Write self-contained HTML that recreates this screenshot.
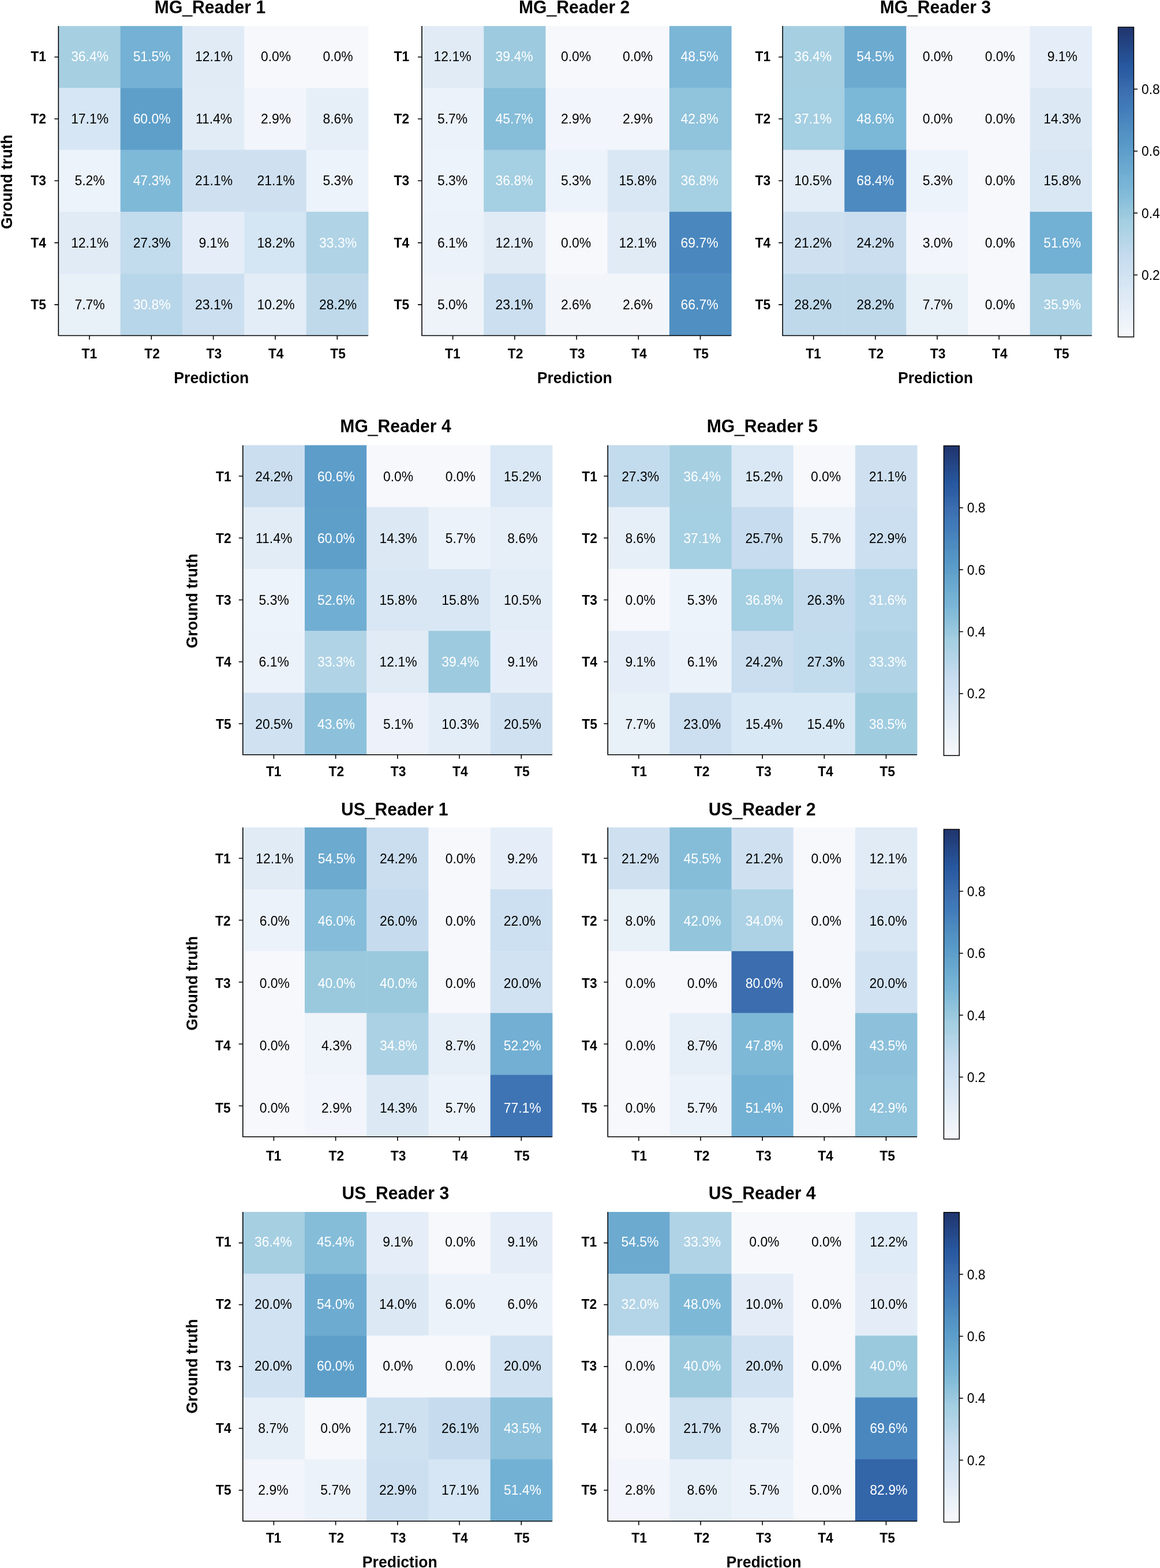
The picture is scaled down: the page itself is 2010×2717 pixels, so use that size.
<!DOCTYPE html>
<html><head><meta charset="utf-8"><title>Confusion matrices</title><style>
html,body{margin:0;padding:0;background:#fff;}
body{width:2010px;height:2717px;overflow:hidden;}
svg{display:block;}
text{font-family:"Liberation Sans",Arial,Helvetica,sans-serif;}
.c{font-size:22.9px;text-anchor:middle;fill:#000;}
.w{fill:#fff;}
.yt{font-size:22.8px;font-weight:bold;text-anchor:end;}
.xt{font-size:22.8px;font-weight:bold;text-anchor:middle;}
.ti{font-size:30.1px;font-weight:bold;text-anchor:middle;}
.lb{font-size:26.6px;font-weight:bold;text-anchor:middle;}
.cb{font-size:22.9px;}
.sp{fill:none;stroke:#000;stroke-width:1.6;stroke-linecap:butt;stroke-linejoin:miter;}
.tk{fill:none;stroke:#000;stroke-width:1.6;}
</style></head><body>
<svg width="2010" height="2717" viewBox="0 0 2010 2717">
<defs>
<linearGradient id="cbg" x1="0" y1="0" x2="0" y2="1"><stop offset="0" stop-color="#21366f"/><stop offset="0.02" stop-color="#213974"/><stop offset="0.03" stop-color="#223d7a"/><stop offset="0.05" stop-color="#234280"/><stop offset="0.06" stop-color="#244686"/><stop offset="0.08" stop-color="#254b8c"/><stop offset="0.09" stop-color="#264f92"/><stop offset="0.11" stop-color="#265399"/><stop offset="0.12" stop-color="#27589f"/><stop offset="0.14" stop-color="#2b5ca2"/><stop offset="0.16" stop-color="#2f60a6"/><stop offset="0.17" stop-color="#3365a9"/><stop offset="0.19" stop-color="#3769ac"/><stop offset="0.2" stop-color="#3b6daf"/><stop offset="0.22" stop-color="#3d71b2"/><stop offset="0.23" stop-color="#3f75b5"/><stop offset="0.25" stop-color="#4079b8"/><stop offset="0.27" stop-color="#437dba"/><stop offset="0.28" stop-color="#4681bc"/><stop offset="0.3" stop-color="#4985be"/><stop offset="0.31" stop-color="#4c89bf"/><stop offset="0.33" stop-color="#4f8dc1"/><stop offset="0.34" stop-color="#5291c3"/><stop offset="0.36" stop-color="#5495c5"/><stop offset="0.38" stop-color="#5799c7"/><stop offset="0.39" stop-color="#5b9cc9"/><stop offset="0.41" stop-color="#5f9fcb"/><stop offset="0.42" stop-color="#63a3cc"/><stop offset="0.44" stop-color="#67a6ce"/><stop offset="0.45" stop-color="#6ba9d0"/><stop offset="0.47" stop-color="#6eadd2"/><stop offset="0.48" stop-color="#72b0d4"/><stop offset="0.5" stop-color="#76b3d5"/><stop offset="0.52" stop-color="#7bb6d7"/><stop offset="0.53" stop-color="#80bad8"/><stop offset="0.55" stop-color="#85bdd9"/><stop offset="0.56" stop-color="#8bc0db"/><stop offset="0.58" stop-color="#91c4dc"/><stop offset="0.59" stop-color="#97c7de"/><stop offset="0.61" stop-color="#9dcadf"/><stop offset="0.62" stop-color="#a3cee1"/><stop offset="0.64" stop-color="#a7d0e3"/><stop offset="0.66" stop-color="#acd2e4"/><stop offset="0.67" stop-color="#b1d4e6"/><stop offset="0.69" stop-color="#b5d5e8"/><stop offset="0.7" stop-color="#bad7ea"/><stop offset="0.72" stop-color="#bfd9eb"/><stop offset="0.73" stop-color="#c3dbed"/><stop offset="0.75" stop-color="#c8ddef"/><stop offset="0.77" stop-color="#cbdff0"/><stop offset="0.78" stop-color="#cde0f1"/><stop offset="0.8" stop-color="#d0e2f2"/><stop offset="0.81" stop-color="#d3e4f3"/><stop offset="0.83" stop-color="#d6e5f4"/><stop offset="0.84" stop-color="#d9e7f4"/><stop offset="0.86" stop-color="#dce9f5"/><stop offset="0.88" stop-color="#dfeaf6"/><stop offset="0.89" stop-color="#e2ecf7"/><stop offset="0.91" stop-color="#e5eef7"/><stop offset="0.92" stop-color="#e8f0f8"/><stop offset="0.94" stop-color="#ebf1f9"/><stop offset="0.95" stop-color="#eef3fa"/><stop offset="0.97" stop-color="#f1f5fa"/><stop offset="0.98" stop-color="#f4f6fb"/><stop offset="1" stop-color="#f7f8fc"/></linearGradient>
</defs>
<rect x="0" y="0" width="2010" height="2717" fill="#ffffff"/>
<g>
<rect x="101.3" y="45.1" width="107.84" height="107.78" fill="#a6cfe2"/>
<rect x="208.64" y="45.1" width="107.84" height="107.78" fill="#74b1d4"/>
<rect x="315.98" y="45.1" width="107.84" height="107.78" fill="#e0ebf6"/>
<rect x="423.32" y="45.1" width="107.84" height="107.78" fill="#f7f8fc"/>
<rect x="530.66" y="45.1" width="107.84" height="107.78" fill="#f7f8fc"/>
<rect x="101.3" y="152.38" width="107.84" height="107.78" fill="#d6e6f4"/>
<rect x="208.64" y="152.38" width="107.84" height="107.78" fill="#5e9fca"/>
<rect x="315.98" y="152.38" width="107.84" height="107.78" fill="#e1ecf6"/>
<rect x="423.32" y="152.38" width="107.84" height="107.78" fill="#f2f5fb"/>
<rect x="530.66" y="152.38" width="107.84" height="107.78" fill="#e6eff8"/>
<rect x="101.3" y="259.66" width="107.84" height="107.78" fill="#edf3fa"/>
<rect x="208.64" y="259.66" width="107.84" height="107.78" fill="#7fb9d8"/>
<rect x="315.98" y="259.66" width="107.84" height="107.78" fill="#cfe1f1"/>
<rect x="423.32" y="259.66" width="107.84" height="107.78" fill="#cfe1f1"/>
<rect x="530.66" y="259.66" width="107.84" height="107.78" fill="#edf3fa"/>
<rect x="101.3" y="366.94" width="107.84" height="107.78" fill="#e0ebf6"/>
<rect x="208.64" y="366.94" width="107.84" height="107.78" fill="#c2dbed"/>
<rect x="315.98" y="366.94" width="107.84" height="107.78" fill="#e5eef8"/>
<rect x="423.32" y="366.94" width="107.84" height="107.78" fill="#d4e5f3"/>
<rect x="530.66" y="366.94" width="107.84" height="107.78" fill="#b0d3e6"/>
<rect x="101.3" y="474.22" width="107.84" height="107.78" fill="#e8f0f8"/>
<rect x="208.64" y="474.22" width="107.84" height="107.78" fill="#b8d6e9"/>
<rect x="315.98" y="474.22" width="107.84" height="107.78" fill="#cbdff0"/>
<rect x="423.32" y="474.22" width="107.84" height="107.78" fill="#e3edf7"/>
<rect x="530.66" y="474.22" width="107.84" height="107.78" fill="#bfd9eb"/>
<text x="155.6" y="106.5" transform="matrix(1 0 0 1.0450 0 -4.792)" class="c w">36.4%</text>
<text x="263.09" y="106.5" transform="matrix(1 0 0 1.0450 0 -4.792)" class="c w">51.5%</text>
<text x="370.58" y="106.5" transform="matrix(1 0 0 1.0450 0 -4.792)" class="c">12.1%</text>
<text x="478.07" y="106.5" transform="matrix(1 0 0 1.0450 0 -4.792)" class="c">0.0%</text>
<text x="585.56" y="106.5" transform="matrix(1 0 0 1.0450 0 -4.792)" class="c">0.0%</text>
<text x="155.6" y="214" transform="matrix(1 0 0 1.0450 0 -9.630)" class="c">17.1%</text>
<text x="263.09" y="214" transform="matrix(1 0 0 1.0450 0 -9.630)" class="c w">60.0%</text>
<text x="370.58" y="214" transform="matrix(1 0 0 1.0450 0 -9.630)" class="c">11.4%</text>
<text x="478.07" y="214" transform="matrix(1 0 0 1.0450 0 -9.630)" class="c">2.9%</text>
<text x="585.56" y="214" transform="matrix(1 0 0 1.0450 0 -9.630)" class="c">8.6%</text>
<text x="155.6" y="321.5" transform="matrix(1 0 0 1.0450 0 -14.467)" class="c">5.2%</text>
<text x="263.09" y="321.5" transform="matrix(1 0 0 1.0450 0 -14.467)" class="c w">47.3%</text>
<text x="370.58" y="321.5" transform="matrix(1 0 0 1.0450 0 -14.467)" class="c">21.1%</text>
<text x="478.07" y="321.5" transform="matrix(1 0 0 1.0450 0 -14.467)" class="c">21.1%</text>
<text x="585.56" y="321.5" transform="matrix(1 0 0 1.0450 0 -14.467)" class="c">5.3%</text>
<text x="155.6" y="429" transform="matrix(1 0 0 1.0450 0 -19.305)" class="c">12.1%</text>
<text x="263.09" y="429" transform="matrix(1 0 0 1.0450 0 -19.305)" class="c">27.3%</text>
<text x="370.58" y="429" transform="matrix(1 0 0 1.0450 0 -19.305)" class="c">9.1%</text>
<text x="478.07" y="429" transform="matrix(1 0 0 1.0450 0 -19.305)" class="c">18.2%</text>
<text x="585.56" y="429" transform="matrix(1 0 0 1.0450 0 -19.305)" class="c w">33.3%</text>
<text x="155.6" y="536.5" transform="matrix(1 0 0 1.0450 0 -24.142)" class="c">7.7%</text>
<text x="263.09" y="536.5" transform="matrix(1 0 0 1.0450 0 -24.142)" class="c w">30.8%</text>
<text x="370.58" y="536.5" transform="matrix(1 0 0 1.0450 0 -24.142)" class="c">23.1%</text>
<text x="478.07" y="536.5" transform="matrix(1 0 0 1.0450 0 -24.142)" class="c">10.2%</text>
<text x="585.56" y="536.5" transform="matrix(1 0 0 1.0450 0 -24.142)" class="c">28.2%</text>
<path d="M101.3 45.1 V581.5 H638" class="sp"/>
<path d="M94.3 98.74 H101.3 M154.97 581.5 V588.5" class="tk"/>
<text x="79.9" y="106.5" transform="matrix(1 0 0 1.0450 0 -4.792)" class="yt">T1</text>
<text x="154.77" y="621.2" transform="matrix(1 0 0 1.0450 0 -27.954)" class="xt">T1</text>
<path d="M94.3 206.02 H101.3 M262.31 581.5 V588.5" class="tk"/>
<text x="79.9" y="214" transform="matrix(1 0 0 1.0450 0 -9.630)" class="yt">T2</text>
<text x="263.51" y="621.2" transform="matrix(1 0 0 1.0450 0 -27.954)" class="xt">T2</text>
<path d="M94.3 313.3 H101.3 M369.65 581.5 V588.5" class="tk"/>
<text x="79.9" y="321.5" transform="matrix(1 0 0 1.0450 0 -14.467)" class="yt">T3</text>
<text x="370.85" y="621.2" transform="matrix(1 0 0 1.0450 0 -27.954)" class="xt">T3</text>
<path d="M94.3 420.58 H101.3 M476.99 581.5 V588.5" class="tk"/>
<text x="79.9" y="429" transform="matrix(1 0 0 1.0450 0 -19.305)" class="yt">T4</text>
<text x="478.19" y="621.2" transform="matrix(1 0 0 1.0450 0 -27.954)" class="xt">T4</text>
<path d="M94.3 527.86 H101.3 M584.33 581.5 V588.5" class="tk"/>
<text x="79.9" y="536.5" transform="matrix(1 0 0 1.0450 0 -24.142)" class="yt">T5</text>
<text x="585.53" y="621.2" transform="matrix(1 0 0 1.0450 0 -27.954)" class="xt">T5</text>
<text x="364" y="22.6" transform="matrix(1 0 0 1.0450 0 -1.017)" class="ti">MG<tspan dy="1.2" stroke="#000" stroke-width="0.7">_</tspan><tspan dy="-1.2">Reader 1</tspan></text>
<text x="366.36" y="663.6" transform="matrix(1 0 0 1.0450 0 -29.862)" class="lb">Prediction</text>
<text transform="translate(20.6 315.17) rotate(-90) scale(1 1.0450)" class="lb">Ground truth</text>
</g>
<g>
<rect x="731" y="45.1" width="107.72" height="107.78" fill="#e0ebf6"/>
<rect x="838.22" y="45.1" width="107.72" height="107.78" fill="#9dcadf"/>
<rect x="945.44" y="45.1" width="107.72" height="107.78" fill="#f7f8fc"/>
<rect x="1052.66" y="45.1" width="107.72" height="107.78" fill="#f7f8fc"/>
<rect x="1159.88" y="45.1" width="107.72" height="107.78" fill="#7bb6d7"/>
<rect x="731" y="152.38" width="107.72" height="107.78" fill="#ecf2f9"/>
<rect x="838.22" y="152.38" width="107.72" height="107.78" fill="#86bdd9"/>
<rect x="945.44" y="152.38" width="107.72" height="107.78" fill="#f2f5fb"/>
<rect x="1052.66" y="152.38" width="107.72" height="107.78" fill="#f2f5fb"/>
<rect x="1159.88" y="152.38" width="107.72" height="107.78" fill="#90c3dc"/>
<rect x="731" y="259.66" width="107.72" height="107.78" fill="#edf3fa"/>
<rect x="838.22" y="259.66" width="107.72" height="107.78" fill="#a5cfe2"/>
<rect x="945.44" y="259.66" width="107.72" height="107.78" fill="#edf3fa"/>
<rect x="1052.66" y="259.66" width="107.72" height="107.78" fill="#d9e7f4"/>
<rect x="1159.88" y="259.66" width="107.72" height="107.78" fill="#a5cfe2"/>
<rect x="731" y="366.94" width="107.72" height="107.78" fill="#ecf2f9"/>
<rect x="838.22" y="366.94" width="107.72" height="107.78" fill="#e0ebf6"/>
<rect x="945.44" y="366.94" width="107.72" height="107.78" fill="#f7f8fc"/>
<rect x="1052.66" y="366.94" width="107.72" height="107.78" fill="#e0ebf6"/>
<rect x="1159.88" y="366.94" width="107.72" height="107.78" fill="#4a87bf"/>
<rect x="731" y="474.22" width="107.72" height="107.78" fill="#eef3fa"/>
<rect x="838.22" y="474.22" width="107.72" height="107.78" fill="#cbdff0"/>
<rect x="945.44" y="474.22" width="107.72" height="107.78" fill="#f2f6fb"/>
<rect x="1052.66" y="474.22" width="107.72" height="107.78" fill="#f2f6fb"/>
<rect x="1159.88" y="474.22" width="107.72" height="107.78" fill="#508fc2"/>
<text x="784.05" y="106.5" transform="matrix(1 0 0 1.0450 0 -4.792)" class="c">12.1%</text>
<text x="891.05" y="106.5" transform="matrix(1 0 0 1.0450 0 -4.792)" class="c w">39.4%</text>
<text x="998.05" y="106.5" transform="matrix(1 0 0 1.0450 0 -4.792)" class="c">0.0%</text>
<text x="1105.05" y="106.5" transform="matrix(1 0 0 1.0450 0 -4.792)" class="c">0.0%</text>
<text x="1212.05" y="106.5" transform="matrix(1 0 0 1.0450 0 -4.792)" class="c w">48.5%</text>
<text x="784.05" y="213.93" transform="matrix(1 0 0 1.0450 0 -9.627)" class="c">5.7%</text>
<text x="891.05" y="213.93" transform="matrix(1 0 0 1.0450 0 -9.627)" class="c w">45.7%</text>
<text x="998.05" y="213.93" transform="matrix(1 0 0 1.0450 0 -9.627)" class="c">2.9%</text>
<text x="1105.05" y="213.93" transform="matrix(1 0 0 1.0450 0 -9.627)" class="c">2.9%</text>
<text x="1212.05" y="213.93" transform="matrix(1 0 0 1.0450 0 -9.627)" class="c w">42.8%</text>
<text x="784.05" y="321.36" transform="matrix(1 0 0 1.0450 0 -14.461)" class="c">5.3%</text>
<text x="891.05" y="321.36" transform="matrix(1 0 0 1.0450 0 -14.461)" class="c w">36.8%</text>
<text x="998.05" y="321.36" transform="matrix(1 0 0 1.0450 0 -14.461)" class="c">5.3%</text>
<text x="1105.05" y="321.36" transform="matrix(1 0 0 1.0450 0 -14.461)" class="c">15.8%</text>
<text x="1212.05" y="321.36" transform="matrix(1 0 0 1.0450 0 -14.461)" class="c w">36.8%</text>
<text x="784.05" y="428.79" transform="matrix(1 0 0 1.0450 0 -19.296)" class="c">6.1%</text>
<text x="891.05" y="428.79" transform="matrix(1 0 0 1.0450 0 -19.296)" class="c">12.1%</text>
<text x="998.05" y="428.79" transform="matrix(1 0 0 1.0450 0 -19.296)" class="c">0.0%</text>
<text x="1105.05" y="428.79" transform="matrix(1 0 0 1.0450 0 -19.296)" class="c">12.1%</text>
<text x="1212.05" y="428.79" transform="matrix(1 0 0 1.0450 0 -19.296)" class="c w">69.7%</text>
<text x="784.05" y="536.22" transform="matrix(1 0 0 1.0450 0 -24.130)" class="c">5.0%</text>
<text x="891.05" y="536.22" transform="matrix(1 0 0 1.0450 0 -24.130)" class="c">23.1%</text>
<text x="998.05" y="536.22" transform="matrix(1 0 0 1.0450 0 -24.130)" class="c">2.6%</text>
<text x="1105.05" y="536.22" transform="matrix(1 0 0 1.0450 0 -24.130)" class="c">2.6%</text>
<text x="1212.05" y="536.22" transform="matrix(1 0 0 1.0450 0 -24.130)" class="c w">66.7%</text>
<path d="M731 45.1 V581.5 H1267.1" class="sp"/>
<path d="M724 98.74 H731 M784.61 581.5 V588.5" class="tk"/>
<text x="709.2" y="106.5" transform="matrix(1 0 0 1.0450 0 -4.792)" class="yt">T1</text>
<text x="784.41" y="621.2" transform="matrix(1 0 0 1.0450 0 -27.954)" class="xt">T1</text>
<path d="M724 206.02 H731 M891.83 581.5 V588.5" class="tk"/>
<text x="709.2" y="213.93" transform="matrix(1 0 0 1.0450 0 -9.627)" class="yt">T2</text>
<text x="893.03" y="621.2" transform="matrix(1 0 0 1.0450 0 -27.954)" class="xt">T2</text>
<path d="M724 313.3 H731 M999.05 581.5 V588.5" class="tk"/>
<text x="709.2" y="321.36" transform="matrix(1 0 0 1.0450 0 -14.461)" class="yt">T3</text>
<text x="1000.25" y="621.2" transform="matrix(1 0 0 1.0450 0 -27.954)" class="xt">T3</text>
<path d="M724 420.58 H731 M1106.27 581.5 V588.5" class="tk"/>
<text x="709.2" y="428.79" transform="matrix(1 0 0 1.0450 0 -19.296)" class="yt">T4</text>
<text x="1107.47" y="621.2" transform="matrix(1 0 0 1.0450 0 -27.954)" class="xt">T4</text>
<path d="M724 527.86 H731 M1213.49 581.5 V588.5" class="tk"/>
<text x="709.2" y="536.22" transform="matrix(1 0 0 1.0450 0 -24.130)" class="yt">T5</text>
<text x="1214.69" y="621.2" transform="matrix(1 0 0 1.0450 0 -27.954)" class="xt">T5</text>
<text x="995.2" y="22.6" transform="matrix(1 0 0 1.0450 0 -1.017)" class="ti">MG<tspan dy="1.2" stroke="#000" stroke-width="0.7">_</tspan><tspan dy="-1.2">Reader 2</tspan></text>
<text x="995.66" y="663.6" transform="matrix(1 0 0 1.0450 0 -29.862)" class="lb">Prediction</text>
</g>
<g>
<rect x="1356.1" y="45.1" width="107.64" height="107.78" fill="#a6cfe2"/>
<rect x="1463.24" y="45.1" width="107.64" height="107.78" fill="#6caad0"/>
<rect x="1570.38" y="45.1" width="107.64" height="107.78" fill="#f7f8fc"/>
<rect x="1677.52" y="45.1" width="107.64" height="107.78" fill="#f7f8fc"/>
<rect x="1784.66" y="45.1" width="107.64" height="107.78" fill="#e5eef8"/>
<rect x="1356.1" y="152.38" width="107.64" height="107.78" fill="#a5cfe2"/>
<rect x="1463.24" y="152.38" width="107.64" height="107.78" fill="#7bb7d7"/>
<rect x="1570.38" y="152.38" width="107.64" height="107.78" fill="#f7f8fc"/>
<rect x="1677.52" y="152.38" width="107.64" height="107.78" fill="#f7f8fc"/>
<rect x="1784.66" y="152.38" width="107.64" height="107.78" fill="#dce9f5"/>
<rect x="1356.1" y="259.66" width="107.64" height="107.78" fill="#e3edf7"/>
<rect x="1463.24" y="259.66" width="107.64" height="107.78" fill="#4d8ac0"/>
<rect x="1570.38" y="259.66" width="107.64" height="107.78" fill="#edf3fa"/>
<rect x="1677.52" y="259.66" width="107.64" height="107.78" fill="#f7f8fc"/>
<rect x="1784.66" y="259.66" width="107.64" height="107.78" fill="#d9e7f4"/>
<rect x="1356.1" y="366.94" width="107.64" height="107.78" fill="#cfe1f1"/>
<rect x="1463.24" y="366.94" width="107.64" height="107.78" fill="#cadef0"/>
<rect x="1570.38" y="366.94" width="107.64" height="107.78" fill="#f2f5fb"/>
<rect x="1677.52" y="366.94" width="107.64" height="107.78" fill="#f7f8fc"/>
<rect x="1784.66" y="366.94" width="107.64" height="107.78" fill="#72b0d4"/>
<rect x="1356.1" y="474.22" width="107.64" height="107.78" fill="#bfd9eb"/>
<rect x="1463.24" y="474.22" width="107.64" height="107.78" fill="#bfd9eb"/>
<rect x="1570.38" y="474.22" width="107.64" height="107.78" fill="#e8f0f8"/>
<rect x="1677.52" y="474.22" width="107.64" height="107.78" fill="#f7f8fc"/>
<rect x="1784.66" y="474.22" width="107.64" height="107.78" fill="#a9d0e3"/>
<text x="1408.75" y="106.2" transform="matrix(1 0 0 1.0450 0 -4.779)" class="c w">36.4%</text>
<text x="1516.75" y="106.2" transform="matrix(1 0 0 1.0450 0 -4.779)" class="c w">54.5%</text>
<text x="1624.75" y="106.2" transform="matrix(1 0 0 1.0450 0 -4.779)" class="c">0.0%</text>
<text x="1732.75" y="106.2" transform="matrix(1 0 0 1.0450 0 -4.779)" class="c">0.0%</text>
<text x="1840.75" y="106.2" transform="matrix(1 0 0 1.0450 0 -4.779)" class="c">9.1%</text>
<text x="1408.75" y="213.7" transform="matrix(1 0 0 1.0450 0 -9.616)" class="c w">37.1%</text>
<text x="1516.75" y="213.7" transform="matrix(1 0 0 1.0450 0 -9.616)" class="c w">48.6%</text>
<text x="1624.75" y="213.7" transform="matrix(1 0 0 1.0450 0 -9.616)" class="c">0.0%</text>
<text x="1732.75" y="213.7" transform="matrix(1 0 0 1.0450 0 -9.616)" class="c">0.0%</text>
<text x="1840.75" y="213.7" transform="matrix(1 0 0 1.0450 0 -9.616)" class="c">14.3%</text>
<text x="1408.75" y="321.2" transform="matrix(1 0 0 1.0450 0 -14.454)" class="c">10.5%</text>
<text x="1516.75" y="321.2" transform="matrix(1 0 0 1.0450 0 -14.454)" class="c w">68.4%</text>
<text x="1624.75" y="321.2" transform="matrix(1 0 0 1.0450 0 -14.454)" class="c">5.3%</text>
<text x="1732.75" y="321.2" transform="matrix(1 0 0 1.0450 0 -14.454)" class="c">0.0%</text>
<text x="1840.75" y="321.2" transform="matrix(1 0 0 1.0450 0 -14.454)" class="c">15.8%</text>
<text x="1408.75" y="428.7" transform="matrix(1 0 0 1.0450 0 -19.291)" class="c">21.2%</text>
<text x="1516.75" y="428.7" transform="matrix(1 0 0 1.0450 0 -19.291)" class="c">24.2%</text>
<text x="1624.75" y="428.7" transform="matrix(1 0 0 1.0450 0 -19.291)" class="c">3.0%</text>
<text x="1732.75" y="428.7" transform="matrix(1 0 0 1.0450 0 -19.291)" class="c">0.0%</text>
<text x="1840.75" y="428.7" transform="matrix(1 0 0 1.0450 0 -19.291)" class="c w">51.6%</text>
<text x="1408.75" y="536.2" transform="matrix(1 0 0 1.0450 0 -24.129)" class="c">28.2%</text>
<text x="1516.75" y="536.2" transform="matrix(1 0 0 1.0450 0 -24.129)" class="c">28.2%</text>
<text x="1624.75" y="536.2" transform="matrix(1 0 0 1.0450 0 -24.129)" class="c">7.7%</text>
<text x="1732.75" y="536.2" transform="matrix(1 0 0 1.0450 0 -24.129)" class="c">0.0%</text>
<text x="1840.75" y="536.2" transform="matrix(1 0 0 1.0450 0 -24.129)" class="c w">35.9%</text>
<path d="M1356.1 45.1 V581.5 H1891.8" class="sp"/>
<path d="M1349.1 98.74 H1356.1 M1409.67 581.5 V588.5" class="tk"/>
<text x="1335.1" y="106.2" transform="matrix(1 0 0 1.0450 0 -4.779)" class="yt">T1</text>
<text x="1409.47" y="621.2" transform="matrix(1 0 0 1.0450 0 -27.954)" class="xt">T1</text>
<path d="M1349.1 206.02 H1356.1 M1516.81 581.5 V588.5" class="tk"/>
<text x="1335.1" y="213.7" transform="matrix(1 0 0 1.0450 0 -9.616)" class="yt">T2</text>
<text x="1518.01" y="621.2" transform="matrix(1 0 0 1.0450 0 -27.954)" class="xt">T2</text>
<path d="M1349.1 313.3 H1356.1 M1623.95 581.5 V588.5" class="tk"/>
<text x="1335.1" y="321.2" transform="matrix(1 0 0 1.0450 0 -14.454)" class="yt">T3</text>
<text x="1625.15" y="621.2" transform="matrix(1 0 0 1.0450 0 -27.954)" class="xt">T3</text>
<path d="M1349.1 420.58 H1356.1 M1731.09 581.5 V588.5" class="tk"/>
<text x="1335.1" y="428.7" transform="matrix(1 0 0 1.0450 0 -19.291)" class="yt">T4</text>
<text x="1732.29" y="621.2" transform="matrix(1 0 0 1.0450 0 -27.954)" class="xt">T4</text>
<path d="M1349.1 527.86 H1356.1 M1838.23 581.5 V588.5" class="tk"/>
<text x="1335.1" y="536.2" transform="matrix(1 0 0 1.0450 0 -24.129)" class="yt">T5</text>
<text x="1839.43" y="621.2" transform="matrix(1 0 0 1.0450 0 -27.954)" class="xt">T5</text>
<text x="1620.8" y="22.6" transform="matrix(1 0 0 1.0450 0 -1.017)" class="ti">MG<tspan dy="1.2" stroke="#000" stroke-width="0.7">_</tspan><tspan dy="-1.2">Reader 3</tspan></text>
<text x="1620.96" y="663.6" transform="matrix(1 0 0 1.0450 0 -29.862)" class="lb">Prediction</text>
</g>
<g>
<rect x="420.8" y="771.4" width="107.72" height="107.76" fill="#cadef0"/>
<rect x="528.02" y="771.4" width="107.72" height="107.76" fill="#5c9dc9"/>
<rect x="635.24" y="771.4" width="107.72" height="107.76" fill="#f7f8fc"/>
<rect x="742.46" y="771.4" width="107.72" height="107.76" fill="#f7f8fc"/>
<rect x="849.68" y="771.4" width="107.72" height="107.76" fill="#dae8f5"/>
<rect x="420.8" y="878.66" width="107.72" height="107.76" fill="#e1ecf6"/>
<rect x="528.02" y="878.66" width="107.72" height="107.76" fill="#5e9fca"/>
<rect x="635.24" y="878.66" width="107.72" height="107.76" fill="#dce9f5"/>
<rect x="742.46" y="878.66" width="107.72" height="107.76" fill="#ecf2f9"/>
<rect x="849.68" y="878.66" width="107.72" height="107.76" fill="#e6eff8"/>
<rect x="420.8" y="985.92" width="107.72" height="107.76" fill="#edf3fa"/>
<rect x="528.02" y="985.92" width="107.72" height="107.76" fill="#71aed3"/>
<rect x="635.24" y="985.92" width="107.72" height="107.76" fill="#d9e7f4"/>
<rect x="742.46" y="985.92" width="107.72" height="107.76" fill="#d9e7f4"/>
<rect x="849.68" y="985.92" width="107.72" height="107.76" fill="#e3edf7"/>
<rect x="420.8" y="1093.18" width="107.72" height="107.76" fill="#ecf2f9"/>
<rect x="528.02" y="1093.18" width="107.72" height="107.76" fill="#b0d3e6"/>
<rect x="635.24" y="1093.18" width="107.72" height="107.76" fill="#e0ebf6"/>
<rect x="742.46" y="1093.18" width="107.72" height="107.76" fill="#9dcadf"/>
<rect x="849.68" y="1093.18" width="107.72" height="107.76" fill="#e5eef8"/>
<rect x="420.8" y="1200.44" width="107.72" height="107.76" fill="#d0e2f2"/>
<rect x="528.02" y="1200.44" width="107.72" height="107.76" fill="#8dc1db"/>
<rect x="635.24" y="1200.44" width="107.72" height="107.76" fill="#edf2fa"/>
<rect x="742.46" y="1200.44" width="107.72" height="107.76" fill="#e3edf7"/>
<rect x="849.68" y="1200.44" width="107.72" height="107.76" fill="#d0e2f2"/>
<text x="474.65" y="833.7" transform="matrix(1 0 0 1.0450 0 -37.516)" class="c">24.2%</text>
<text x="582.35" y="833.7" transform="matrix(1 0 0 1.0450 0 -37.516)" class="c w">60.6%</text>
<text x="690.05" y="833.7" transform="matrix(1 0 0 1.0450 0 -37.516)" class="c">0.0%</text>
<text x="797.75" y="833.7" transform="matrix(1 0 0 1.0450 0 -37.516)" class="c">0.0%</text>
<text x="905.45" y="833.7" transform="matrix(1 0 0 1.0450 0 -37.516)" class="c">15.2%</text>
<text x="474.65" y="940.95" transform="matrix(1 0 0 1.0450 0 -42.343)" class="c">11.4%</text>
<text x="582.35" y="940.95" transform="matrix(1 0 0 1.0450 0 -42.343)" class="c w">60.0%</text>
<text x="690.05" y="940.95" transform="matrix(1 0 0 1.0450 0 -42.343)" class="c">14.3%</text>
<text x="797.75" y="940.95" transform="matrix(1 0 0 1.0450 0 -42.343)" class="c">5.7%</text>
<text x="905.45" y="940.95" transform="matrix(1 0 0 1.0450 0 -42.343)" class="c">8.6%</text>
<text x="474.65" y="1048.2" transform="matrix(1 0 0 1.0450 0 -47.169)" class="c">5.3%</text>
<text x="582.35" y="1048.2" transform="matrix(1 0 0 1.0450 0 -47.169)" class="c w">52.6%</text>
<text x="690.05" y="1048.2" transform="matrix(1 0 0 1.0450 0 -47.169)" class="c">15.8%</text>
<text x="797.75" y="1048.2" transform="matrix(1 0 0 1.0450 0 -47.169)" class="c">15.8%</text>
<text x="905.45" y="1048.2" transform="matrix(1 0 0 1.0450 0 -47.169)" class="c">10.5%</text>
<text x="474.65" y="1155.45" transform="matrix(1 0 0 1.0450 0 -51.995)" class="c">6.1%</text>
<text x="582.35" y="1155.45" transform="matrix(1 0 0 1.0450 0 -51.995)" class="c w">33.3%</text>
<text x="690.05" y="1155.45" transform="matrix(1 0 0 1.0450 0 -51.995)" class="c">12.1%</text>
<text x="797.75" y="1155.45" transform="matrix(1 0 0 1.0450 0 -51.995)" class="c w">39.4%</text>
<text x="905.45" y="1155.45" transform="matrix(1 0 0 1.0450 0 -51.995)" class="c">9.1%</text>
<text x="474.65" y="1262.7" transform="matrix(1 0 0 1.0450 0 -56.821)" class="c">20.5%</text>
<text x="582.35" y="1262.7" transform="matrix(1 0 0 1.0450 0 -56.821)" class="c w">43.6%</text>
<text x="690.05" y="1262.7" transform="matrix(1 0 0 1.0450 0 -56.821)" class="c">5.1%</text>
<text x="797.75" y="1262.7" transform="matrix(1 0 0 1.0450 0 -56.821)" class="c">10.3%</text>
<text x="905.45" y="1262.7" transform="matrix(1 0 0 1.0450 0 -56.821)" class="c">20.5%</text>
<path d="M420.8 771.4 V1307.7 H956.9" class="sp"/>
<path d="M413.8 825.03 H420.8 M474.41 1307.7 V1314.7" class="tk"/>
<text x="400.7" y="833.7" transform="matrix(1 0 0 1.0450 0 -37.516)" class="yt">T1</text>
<text x="474.21" y="1344.85" transform="matrix(1 0 0 1.0450 0 -60.518)" class="xt">T1</text>
<path d="M413.8 932.29 H420.8 M581.63 1307.7 V1314.7" class="tk"/>
<text x="400.7" y="940.95" transform="matrix(1 0 0 1.0450 0 -42.343)" class="yt">T2</text>
<text x="582.83" y="1344.85" transform="matrix(1 0 0 1.0450 0 -60.518)" class="xt">T2</text>
<path d="M413.8 1039.55 H420.8 M688.85 1307.7 V1314.7" class="tk"/>
<text x="400.7" y="1048.2" transform="matrix(1 0 0 1.0450 0 -47.169)" class="yt">T3</text>
<text x="690.05" y="1344.85" transform="matrix(1 0 0 1.0450 0 -60.518)" class="xt">T3</text>
<path d="M413.8 1146.81 H420.8 M796.07 1307.7 V1314.7" class="tk"/>
<text x="400.7" y="1155.45" transform="matrix(1 0 0 1.0450 0 -51.995)" class="yt">T4</text>
<text x="797.27" y="1344.85" transform="matrix(1 0 0 1.0450 0 -60.518)" class="xt">T4</text>
<path d="M413.8 1254.07 H420.8 M903.29 1307.7 V1314.7" class="tk"/>
<text x="400.7" y="1262.7" transform="matrix(1 0 0 1.0450 0 -56.821)" class="yt">T5</text>
<text x="904.49" y="1344.85" transform="matrix(1 0 0 1.0450 0 -60.518)" class="xt">T5</text>
<text x="685.5" y="749.3" transform="matrix(1 0 0 1.0450 0 -33.718)" class="ti">MG<tspan dy="1.2" stroke="#000" stroke-width="0.7">_</tspan><tspan dy="-1.2">Reader 4</tspan></text>
<text transform="translate(342.4 1041.22) rotate(-90) scale(1 1.0450)" class="lb">Ground truth</text>
</g>
<g>
<rect x="1053.2" y="771.4" width="107.66" height="107.76" fill="#c2dbed"/>
<rect x="1160.36" y="771.4" width="107.66" height="107.76" fill="#a6cfe2"/>
<rect x="1267.52" y="771.4" width="107.66" height="107.76" fill="#dae8f5"/>
<rect x="1374.68" y="771.4" width="107.66" height="107.76" fill="#f7f8fc"/>
<rect x="1481.84" y="771.4" width="107.66" height="107.76" fill="#cfe1f1"/>
<rect x="1053.2" y="878.66" width="107.66" height="107.76" fill="#e6eff8"/>
<rect x="1160.36" y="878.66" width="107.66" height="107.76" fill="#a5cfe2"/>
<rect x="1267.52" y="878.66" width="107.66" height="107.76" fill="#c7dcee"/>
<rect x="1374.68" y="878.66" width="107.66" height="107.76" fill="#ecf2f9"/>
<rect x="1481.84" y="878.66" width="107.66" height="107.76" fill="#ccdff0"/>
<rect x="1053.2" y="985.92" width="107.66" height="107.76" fill="#f7f8fc"/>
<rect x="1160.36" y="985.92" width="107.66" height="107.76" fill="#edf3fa"/>
<rect x="1267.52" y="985.92" width="107.66" height="107.76" fill="#a5cfe2"/>
<rect x="1374.68" y="985.92" width="107.66" height="107.76" fill="#c4dbee"/>
<rect x="1481.84" y="985.92" width="107.66" height="107.76" fill="#b5d5e8"/>
<rect x="1053.2" y="1093.18" width="107.66" height="107.76" fill="#e5eef8"/>
<rect x="1160.36" y="1093.18" width="107.66" height="107.76" fill="#ecf2f9"/>
<rect x="1267.52" y="1093.18" width="107.66" height="107.76" fill="#cadef0"/>
<rect x="1374.68" y="1093.18" width="107.66" height="107.76" fill="#c2dbed"/>
<rect x="1481.84" y="1093.18" width="107.66" height="107.76" fill="#b0d3e6"/>
<rect x="1053.2" y="1200.44" width="107.66" height="107.76" fill="#e8f0f8"/>
<rect x="1160.36" y="1200.44" width="107.66" height="107.76" fill="#ccdff0"/>
<rect x="1267.52" y="1200.44" width="107.66" height="107.76" fill="#d9e8f5"/>
<rect x="1374.68" y="1200.44" width="107.66" height="107.76" fill="#d9e8f5"/>
<rect x="1481.84" y="1200.44" width="107.66" height="107.76" fill="#a0cce0"/>
<text x="1109.6" y="833.7" transform="matrix(1 0 0 1.0450 0 -37.516)" class="c">27.3%</text>
<text x="1216.75" y="833.7" transform="matrix(1 0 0 1.0450 0 -37.516)" class="c w">36.4%</text>
<text x="1323.9" y="833.7" transform="matrix(1 0 0 1.0450 0 -37.516)" class="c">15.2%</text>
<text x="1431.05" y="833.7" transform="matrix(1 0 0 1.0450 0 -37.516)" class="c">0.0%</text>
<text x="1538.2" y="833.7" transform="matrix(1 0 0 1.0450 0 -37.516)" class="c">21.1%</text>
<text x="1109.6" y="940.95" transform="matrix(1 0 0 1.0450 0 -42.343)" class="c">8.6%</text>
<text x="1216.75" y="940.95" transform="matrix(1 0 0 1.0450 0 -42.343)" class="c w">37.1%</text>
<text x="1323.9" y="940.95" transform="matrix(1 0 0 1.0450 0 -42.343)" class="c">25.7%</text>
<text x="1431.05" y="940.95" transform="matrix(1 0 0 1.0450 0 -42.343)" class="c">5.7%</text>
<text x="1538.2" y="940.95" transform="matrix(1 0 0 1.0450 0 -42.343)" class="c">22.9%</text>
<text x="1109.6" y="1048.2" transform="matrix(1 0 0 1.0450 0 -47.169)" class="c">0.0%</text>
<text x="1216.75" y="1048.2" transform="matrix(1 0 0 1.0450 0 -47.169)" class="c">5.3%</text>
<text x="1323.9" y="1048.2" transform="matrix(1 0 0 1.0450 0 -47.169)" class="c w">36.8%</text>
<text x="1431.05" y="1048.2" transform="matrix(1 0 0 1.0450 0 -47.169)" class="c">26.3%</text>
<text x="1538.2" y="1048.2" transform="matrix(1 0 0 1.0450 0 -47.169)" class="c w">31.6%</text>
<text x="1109.6" y="1155.45" transform="matrix(1 0 0 1.0450 0 -51.995)" class="c">9.1%</text>
<text x="1216.75" y="1155.45" transform="matrix(1 0 0 1.0450 0 -51.995)" class="c">6.1%</text>
<text x="1323.9" y="1155.45" transform="matrix(1 0 0 1.0450 0 -51.995)" class="c">24.2%</text>
<text x="1431.05" y="1155.45" transform="matrix(1 0 0 1.0450 0 -51.995)" class="c">27.3%</text>
<text x="1538.2" y="1155.45" transform="matrix(1 0 0 1.0450 0 -51.995)" class="c w">33.3%</text>
<text x="1109.6" y="1262.7" transform="matrix(1 0 0 1.0450 0 -56.821)" class="c">7.7%</text>
<text x="1216.75" y="1262.7" transform="matrix(1 0 0 1.0450 0 -56.821)" class="c">23.0%</text>
<text x="1323.9" y="1262.7" transform="matrix(1 0 0 1.0450 0 -56.821)" class="c">15.4%</text>
<text x="1431.05" y="1262.7" transform="matrix(1 0 0 1.0450 0 -56.821)" class="c">15.4%</text>
<text x="1538.2" y="1262.7" transform="matrix(1 0 0 1.0450 0 -56.821)" class="c w">38.5%</text>
<path d="M1053.2 771.4 V1307.7 H1589" class="sp"/>
<path d="M1046.2 825.03 H1053.2 M1106.78 1307.7 V1314.7" class="tk"/>
<text x="1034.9" y="833.7" transform="matrix(1 0 0 1.0450 0 -37.516)" class="yt">T1</text>
<text x="1107.58" y="1344.85" transform="matrix(1 0 0 1.0450 0 -60.518)" class="xt">T1</text>
<path d="M1046.2 932.29 H1053.2 M1213.94 1307.7 V1314.7" class="tk"/>
<text x="1034.9" y="940.95" transform="matrix(1 0 0 1.0450 0 -42.343)" class="yt">T2</text>
<text x="1216.14" y="1344.85" transform="matrix(1 0 0 1.0450 0 -60.518)" class="xt">T2</text>
<path d="M1046.2 1039.55 H1053.2 M1321.1 1307.7 V1314.7" class="tk"/>
<text x="1034.9" y="1048.2" transform="matrix(1 0 0 1.0450 0 -47.169)" class="yt">T3</text>
<text x="1323.3" y="1344.85" transform="matrix(1 0 0 1.0450 0 -60.518)" class="xt">T3</text>
<path d="M1046.2 1146.81 H1053.2 M1428.26 1307.7 V1314.7" class="tk"/>
<text x="1034.9" y="1155.45" transform="matrix(1 0 0 1.0450 0 -51.995)" class="yt">T4</text>
<text x="1430.46" y="1344.85" transform="matrix(1 0 0 1.0450 0 -60.518)" class="xt">T4</text>
<path d="M1046.2 1254.07 H1053.2 M1535.42 1307.7 V1314.7" class="tk"/>
<text x="1034.9" y="1262.7" transform="matrix(1 0 0 1.0450 0 -56.821)" class="yt">T5</text>
<text x="1537.62" y="1344.85" transform="matrix(1 0 0 1.0450 0 -60.518)" class="xt">T5</text>
<text x="1320.8" y="749.3" transform="matrix(1 0 0 1.0450 0 -33.718)" class="ti">MG<tspan dy="1.2" stroke="#000" stroke-width="0.7">_</tspan><tspan dy="-1.2">Reader 5</tspan></text>
</g>
<g>
<rect x="420.8" y="1433.7" width="107.72" height="107.72" fill="#e0ebf6"/>
<rect x="528.02" y="1433.7" width="107.72" height="107.72" fill="#6caad0"/>
<rect x="635.24" y="1433.7" width="107.72" height="107.72" fill="#cadef0"/>
<rect x="742.46" y="1433.7" width="107.72" height="107.72" fill="#f7f8fc"/>
<rect x="849.68" y="1433.7" width="107.72" height="107.72" fill="#e5eef8"/>
<rect x="420.8" y="1540.92" width="107.72" height="107.72" fill="#ecf2f9"/>
<rect x="528.02" y="1540.92" width="107.72" height="107.72" fill="#84bcd9"/>
<rect x="635.24" y="1540.92" width="107.72" height="107.72" fill="#c6dcee"/>
<rect x="742.46" y="1540.92" width="107.72" height="107.72" fill="#f7f8fc"/>
<rect x="849.68" y="1540.92" width="107.72" height="107.72" fill="#cde0f1"/>
<rect x="420.8" y="1648.14" width="107.72" height="107.72" fill="#f7f8fc"/>
<rect x="528.02" y="1648.14" width="107.72" height="107.72" fill="#9ac9de"/>
<rect x="635.24" y="1648.14" width="107.72" height="107.72" fill="#9ac9de"/>
<rect x="742.46" y="1648.14" width="107.72" height="107.72" fill="#f7f8fc"/>
<rect x="849.68" y="1648.14" width="107.72" height="107.72" fill="#d1e2f2"/>
<rect x="420.8" y="1755.36" width="107.72" height="107.72" fill="#f7f8fc"/>
<rect x="528.02" y="1755.36" width="107.72" height="107.72" fill="#eff3fa"/>
<rect x="635.24" y="1755.36" width="107.72" height="107.72" fill="#abd1e4"/>
<rect x="742.46" y="1755.36" width="107.72" height="107.72" fill="#e6eff8"/>
<rect x="849.68" y="1755.36" width="107.72" height="107.72" fill="#72afd3"/>
<rect x="420.8" y="1862.58" width="107.72" height="107.72" fill="#f7f8fc"/>
<rect x="528.02" y="1862.58" width="107.72" height="107.72" fill="#f2f5fb"/>
<rect x="635.24" y="1862.58" width="107.72" height="107.72" fill="#dce9f5"/>
<rect x="742.46" y="1862.58" width="107.72" height="107.72" fill="#ecf2f9"/>
<rect x="849.68" y="1862.58" width="107.72" height="107.72" fill="#3e74b4"/>
<text x="475.8" y="1495.9" transform="matrix(1 0 0 1.0450 0 -67.315)" class="c">12.1%</text>
<text x="583.15" y="1495.9" transform="matrix(1 0 0 1.0450 0 -67.315)" class="c w">54.5%</text>
<text x="690.5" y="1495.9" transform="matrix(1 0 0 1.0450 0 -67.315)" class="c">24.2%</text>
<text x="797.85" y="1495.9" transform="matrix(1 0 0 1.0450 0 -67.315)" class="c">0.0%</text>
<text x="905.2" y="1495.9" transform="matrix(1 0 0 1.0450 0 -67.315)" class="c">9.2%</text>
<text x="475.8" y="1603.95" transform="matrix(1 0 0 1.0450 0 -72.178)" class="c">6.0%</text>
<text x="583.15" y="1603.95" transform="matrix(1 0 0 1.0450 0 -72.178)" class="c w">46.0%</text>
<text x="690.5" y="1603.95" transform="matrix(1 0 0 1.0450 0 -72.178)" class="c">26.0%</text>
<text x="797.85" y="1603.95" transform="matrix(1 0 0 1.0450 0 -72.178)" class="c">0.0%</text>
<text x="905.2" y="1603.95" transform="matrix(1 0 0 1.0450 0 -72.178)" class="c">22.0%</text>
<text x="475.8" y="1712" transform="matrix(1 0 0 1.0450 0 -77.040)" class="c">0.0%</text>
<text x="583.15" y="1712" transform="matrix(1 0 0 1.0450 0 -77.040)" class="c w">40.0%</text>
<text x="690.5" y="1712" transform="matrix(1 0 0 1.0450 0 -77.040)" class="c w">40.0%</text>
<text x="797.85" y="1712" transform="matrix(1 0 0 1.0450 0 -77.040)" class="c">0.0%</text>
<text x="905.2" y="1712" transform="matrix(1 0 0 1.0450 0 -77.040)" class="c">20.0%</text>
<text x="475.8" y="1820.05" transform="matrix(1 0 0 1.0450 0 -81.902)" class="c">0.0%</text>
<text x="583.15" y="1820.05" transform="matrix(1 0 0 1.0450 0 -81.902)" class="c">4.3%</text>
<text x="690.5" y="1820.05" transform="matrix(1 0 0 1.0450 0 -81.902)" class="c w">34.8%</text>
<text x="797.85" y="1820.05" transform="matrix(1 0 0 1.0450 0 -81.902)" class="c">8.7%</text>
<text x="905.2" y="1820.05" transform="matrix(1 0 0 1.0450 0 -81.902)" class="c w">52.2%</text>
<text x="475.8" y="1928.1" transform="matrix(1 0 0 1.0450 0 -86.764)" class="c">0.0%</text>
<text x="583.15" y="1928.1" transform="matrix(1 0 0 1.0450 0 -86.764)" class="c">2.9%</text>
<text x="690.5" y="1928.1" transform="matrix(1 0 0 1.0450 0 -86.764)" class="c">14.3%</text>
<text x="797.85" y="1928.1" transform="matrix(1 0 0 1.0450 0 -86.764)" class="c">5.7%</text>
<text x="905.2" y="1928.1" transform="matrix(1 0 0 1.0450 0 -86.764)" class="c w">77.1%</text>
<path d="M420.8 1433.7 V1969.8 H956.9" class="sp"/>
<path d="M413.8 1487.31 H420.8 M474.41 1969.8 V1976.8" class="tk"/>
<text x="399.6" y="1495.9" transform="matrix(1 0 0 1.0450 0 -67.315)" class="yt">T1</text>
<text x="474.21" y="2010.87" transform="matrix(1 0 0 1.0450 0 -90.489)" class="xt">T1</text>
<path d="M413.8 1594.53 H420.8 M581.63 1969.8 V1976.8" class="tk"/>
<text x="399.6" y="1603.95" transform="matrix(1 0 0 1.0450 0 -72.178)" class="yt">T2</text>
<text x="582.83" y="2010.87" transform="matrix(1 0 0 1.0450 0 -90.489)" class="xt">T2</text>
<path d="M413.8 1701.75 H420.8 M688.85 1969.8 V1976.8" class="tk"/>
<text x="399.6" y="1712" transform="matrix(1 0 0 1.0450 0 -77.040)" class="yt">T3</text>
<text x="690.05" y="2010.87" transform="matrix(1 0 0 1.0450 0 -90.489)" class="xt">T3</text>
<path d="M413.8 1808.97 H420.8 M796.07 1969.8 V1976.8" class="tk"/>
<text x="399.6" y="1820.05" transform="matrix(1 0 0 1.0450 0 -81.902)" class="yt">T4</text>
<text x="797.27" y="2010.87" transform="matrix(1 0 0 1.0450 0 -90.489)" class="xt">T4</text>
<path d="M413.8 1916.19 H420.8 M903.29 1969.8 V1976.8" class="tk"/>
<text x="399.6" y="1928.1" transform="matrix(1 0 0 1.0450 0 -86.764)" class="yt">T5</text>
<text x="904.49" y="2010.87" transform="matrix(1 0 0 1.0450 0 -90.489)" class="xt">T5</text>
<text x="683.75" y="1413.4" transform="matrix(1 0 0 1.0450 0 -63.603)" class="ti">US<tspan dy="1.2" stroke="#000" stroke-width="0.7">_</tspan><tspan dy="-1.2">Reader 1</tspan></text>
<text transform="translate(342.4 1703.92) rotate(-90) scale(1 1.0450)" class="lb">Ground truth</text>
</g>
<g>
<rect x="1053.2" y="1433.7" width="107.66" height="107.72" fill="#cfe1f1"/>
<rect x="1160.36" y="1433.7" width="107.66" height="107.72" fill="#85bdd9"/>
<rect x="1267.52" y="1433.7" width="107.66" height="107.72" fill="#cfe1f1"/>
<rect x="1374.68" y="1433.7" width="107.66" height="107.72" fill="#f7f8fc"/>
<rect x="1481.84" y="1433.7" width="107.66" height="107.72" fill="#e0ebf6"/>
<rect x="1053.2" y="1540.92" width="107.66" height="107.72" fill="#e8f0f8"/>
<rect x="1160.36" y="1540.92" width="107.66" height="107.72" fill="#93c5dc"/>
<rect x="1267.52" y="1540.92" width="107.66" height="107.72" fill="#add2e5"/>
<rect x="1374.68" y="1540.92" width="107.66" height="107.72" fill="#f7f8fc"/>
<rect x="1481.84" y="1540.92" width="107.66" height="107.72" fill="#d9e7f4"/>
<rect x="1053.2" y="1648.14" width="107.66" height="107.72" fill="#f7f8fc"/>
<rect x="1160.36" y="1648.14" width="107.66" height="107.72" fill="#f7f8fc"/>
<rect x="1267.52" y="1648.14" width="107.66" height="107.72" fill="#3b6daf"/>
<rect x="1374.68" y="1648.14" width="107.66" height="107.72" fill="#f7f8fc"/>
<rect x="1481.84" y="1648.14" width="107.66" height="107.72" fill="#d1e2f2"/>
<rect x="1053.2" y="1755.36" width="107.66" height="107.72" fill="#f7f8fc"/>
<rect x="1160.36" y="1755.36" width="107.66" height="107.72" fill="#e6eff8"/>
<rect x="1267.52" y="1755.36" width="107.66" height="107.72" fill="#7eb8d7"/>
<rect x="1374.68" y="1755.36" width="107.66" height="107.72" fill="#f7f8fc"/>
<rect x="1481.84" y="1755.36" width="107.66" height="107.72" fill="#8dc1db"/>
<rect x="1053.2" y="1862.58" width="107.66" height="107.72" fill="#f7f8fc"/>
<rect x="1160.36" y="1862.58" width="107.66" height="107.72" fill="#ecf2f9"/>
<rect x="1267.52" y="1862.58" width="107.66" height="107.72" fill="#73b1d4"/>
<rect x="1374.68" y="1862.58" width="107.66" height="107.72" fill="#f7f8fc"/>
<rect x="1481.84" y="1862.58" width="107.66" height="107.72" fill="#90c3dc"/>
<text x="1109.5" y="1495.9" transform="matrix(1 0 0 1.0450 0 -67.315)" class="c">21.2%</text>
<text x="1216.89" y="1495.9" transform="matrix(1 0 0 1.0450 0 -67.315)" class="c w">45.5%</text>
<text x="1324.28" y="1495.9" transform="matrix(1 0 0 1.0450 0 -67.315)" class="c">21.2%</text>
<text x="1431.67" y="1495.9" transform="matrix(1 0 0 1.0450 0 -67.315)" class="c">0.0%</text>
<text x="1539.06" y="1495.9" transform="matrix(1 0 0 1.0450 0 -67.315)" class="c">12.1%</text>
<text x="1109.5" y="1603.95" transform="matrix(1 0 0 1.0450 0 -72.178)" class="c">8.0%</text>
<text x="1216.89" y="1603.95" transform="matrix(1 0 0 1.0450 0 -72.178)" class="c w">42.0%</text>
<text x="1324.28" y="1603.95" transform="matrix(1 0 0 1.0450 0 -72.178)" class="c w">34.0%</text>
<text x="1431.67" y="1603.95" transform="matrix(1 0 0 1.0450 0 -72.178)" class="c">0.0%</text>
<text x="1539.06" y="1603.95" transform="matrix(1 0 0 1.0450 0 -72.178)" class="c">16.0%</text>
<text x="1109.5" y="1712" transform="matrix(1 0 0 1.0450 0 -77.040)" class="c">0.0%</text>
<text x="1216.89" y="1712" transform="matrix(1 0 0 1.0450 0 -77.040)" class="c">0.0%</text>
<text x="1324.28" y="1712" transform="matrix(1 0 0 1.0450 0 -77.040)" class="c w">80.0%</text>
<text x="1431.67" y="1712" transform="matrix(1 0 0 1.0450 0 -77.040)" class="c">0.0%</text>
<text x="1539.06" y="1712" transform="matrix(1 0 0 1.0450 0 -77.040)" class="c">20.0%</text>
<text x="1109.5" y="1820.05" transform="matrix(1 0 0 1.0450 0 -81.902)" class="c">0.0%</text>
<text x="1216.89" y="1820.05" transform="matrix(1 0 0 1.0450 0 -81.902)" class="c">8.7%</text>
<text x="1324.28" y="1820.05" transform="matrix(1 0 0 1.0450 0 -81.902)" class="c w">47.8%</text>
<text x="1431.67" y="1820.05" transform="matrix(1 0 0 1.0450 0 -81.902)" class="c">0.0%</text>
<text x="1539.06" y="1820.05" transform="matrix(1 0 0 1.0450 0 -81.902)" class="c w">43.5%</text>
<text x="1109.5" y="1928.1" transform="matrix(1 0 0 1.0450 0 -86.764)" class="c">0.0%</text>
<text x="1216.89" y="1928.1" transform="matrix(1 0 0 1.0450 0 -86.764)" class="c">5.7%</text>
<text x="1324.28" y="1928.1" transform="matrix(1 0 0 1.0450 0 -86.764)" class="c w">51.4%</text>
<text x="1431.67" y="1928.1" transform="matrix(1 0 0 1.0450 0 -86.764)" class="c">0.0%</text>
<text x="1539.06" y="1928.1" transform="matrix(1 0 0 1.0450 0 -86.764)" class="c w">42.9%</text>
<path d="M1053.2 1433.7 V1969.8 H1589" class="sp"/>
<path d="M1046.2 1487.31 H1053.2 M1106.78 1969.8 V1976.8" class="tk"/>
<text x="1034.6" y="1495.9" transform="matrix(1 0 0 1.0450 0 -67.315)" class="yt">T1</text>
<text x="1107.58" y="2010.87" transform="matrix(1 0 0 1.0450 0 -90.489)" class="xt">T1</text>
<path d="M1046.2 1594.53 H1053.2 M1213.94 1969.8 V1976.8" class="tk"/>
<text x="1034.6" y="1603.95" transform="matrix(1 0 0 1.0450 0 -72.178)" class="yt">T2</text>
<text x="1216.14" y="2010.87" transform="matrix(1 0 0 1.0450 0 -90.489)" class="xt">T2</text>
<path d="M1046.2 1701.75 H1053.2 M1321.1 1969.8 V1976.8" class="tk"/>
<text x="1034.6" y="1712" transform="matrix(1 0 0 1.0450 0 -77.040)" class="yt">T3</text>
<text x="1323.3" y="2010.87" transform="matrix(1 0 0 1.0450 0 -90.489)" class="xt">T3</text>
<path d="M1046.2 1808.97 H1053.2 M1428.26 1969.8 V1976.8" class="tk"/>
<text x="1034.6" y="1820.05" transform="matrix(1 0 0 1.0450 0 -81.902)" class="yt">T4</text>
<text x="1430.46" y="2010.87" transform="matrix(1 0 0 1.0450 0 -90.489)" class="xt">T4</text>
<path d="M1046.2 1916.19 H1053.2 M1535.42 1969.8 V1976.8" class="tk"/>
<text x="1034.6" y="1928.1" transform="matrix(1 0 0 1.0450 0 -86.764)" class="yt">T5</text>
<text x="1537.62" y="2010.87" transform="matrix(1 0 0 1.0450 0 -90.489)" class="xt">T5</text>
<text x="1320.65" y="1413.4" transform="matrix(1 0 0 1.0450 0 -63.603)" class="ti">US<tspan dy="1.2" stroke="#000" stroke-width="0.7">_</tspan><tspan dy="-1.2">Reader 2</tspan></text>
</g>
<g>
<rect x="420.8" y="2100" width="107.72" height="107.66" fill="#a6cfe2"/>
<rect x="528.02" y="2100" width="107.72" height="107.66" fill="#85bdd9"/>
<rect x="635.24" y="2100" width="107.72" height="107.66" fill="#e5eef8"/>
<rect x="742.46" y="2100" width="107.72" height="107.66" fill="#f7f8fc"/>
<rect x="849.68" y="2100" width="107.72" height="107.66" fill="#e5eef8"/>
<rect x="420.8" y="2207.16" width="107.72" height="107.66" fill="#d1e2f2"/>
<rect x="528.02" y="2207.16" width="107.72" height="107.66" fill="#6dabd1"/>
<rect x="635.24" y="2207.16" width="107.72" height="107.66" fill="#dce9f5"/>
<rect x="742.46" y="2207.16" width="107.72" height="107.66" fill="#ecf2f9"/>
<rect x="849.68" y="2207.16" width="107.72" height="107.66" fill="#ecf2f9"/>
<rect x="420.8" y="2314.32" width="107.72" height="107.66" fill="#d1e2f2"/>
<rect x="528.02" y="2314.32" width="107.72" height="107.66" fill="#5e9fca"/>
<rect x="635.24" y="2314.32" width="107.72" height="107.66" fill="#f7f8fc"/>
<rect x="742.46" y="2314.32" width="107.72" height="107.66" fill="#f7f8fc"/>
<rect x="849.68" y="2314.32" width="107.72" height="107.66" fill="#d1e2f2"/>
<rect x="420.8" y="2421.48" width="107.72" height="107.66" fill="#e6eff8"/>
<rect x="528.02" y="2421.48" width="107.72" height="107.66" fill="#f7f8fc"/>
<rect x="635.24" y="2421.48" width="107.72" height="107.66" fill="#cee1f1"/>
<rect x="742.46" y="2421.48" width="107.72" height="107.66" fill="#c6dcee"/>
<rect x="849.68" y="2421.48" width="107.72" height="107.66" fill="#8dc1db"/>
<rect x="420.8" y="2528.64" width="107.72" height="107.66" fill="#f2f5fb"/>
<rect x="528.02" y="2528.64" width="107.72" height="107.66" fill="#ecf2f9"/>
<rect x="635.24" y="2528.64" width="107.72" height="107.66" fill="#ccdff0"/>
<rect x="742.46" y="2528.64" width="107.72" height="107.66" fill="#d6e6f4"/>
<rect x="849.68" y="2528.64" width="107.72" height="107.66" fill="#73b1d4"/>
<text x="473.45" y="2160" transform="matrix(1 0 0 1.0450 0 -97.200)" class="c w">36.4%</text>
<text x="581.45" y="2160" transform="matrix(1 0 0 1.0450 0 -97.200)" class="c w">45.4%</text>
<text x="689.45" y="2160" transform="matrix(1 0 0 1.0450 0 -97.200)" class="c">9.1%</text>
<text x="797.45" y="2160" transform="matrix(1 0 0 1.0450 0 -97.200)" class="c">0.0%</text>
<text x="905.45" y="2160" transform="matrix(1 0 0 1.0450 0 -97.200)" class="c">9.1%</text>
<text x="473.45" y="2267.57" transform="matrix(1 0 0 1.0450 0 -102.041)" class="c">20.0%</text>
<text x="581.45" y="2267.57" transform="matrix(1 0 0 1.0450 0 -102.041)" class="c w">54.0%</text>
<text x="689.45" y="2267.57" transform="matrix(1 0 0 1.0450 0 -102.041)" class="c">14.0%</text>
<text x="797.45" y="2267.57" transform="matrix(1 0 0 1.0450 0 -102.041)" class="c">6.0%</text>
<text x="905.45" y="2267.57" transform="matrix(1 0 0 1.0450 0 -102.041)" class="c">6.0%</text>
<text x="473.45" y="2375.15" transform="matrix(1 0 0 1.0450 0 -106.882)" class="c">20.0%</text>
<text x="581.45" y="2375.15" transform="matrix(1 0 0 1.0450 0 -106.882)" class="c w">60.0%</text>
<text x="689.45" y="2375.15" transform="matrix(1 0 0 1.0450 0 -106.882)" class="c">0.0%</text>
<text x="797.45" y="2375.15" transform="matrix(1 0 0 1.0450 0 -106.882)" class="c">0.0%</text>
<text x="905.45" y="2375.15" transform="matrix(1 0 0 1.0450 0 -106.882)" class="c">20.0%</text>
<text x="473.45" y="2482.72" transform="matrix(1 0 0 1.0450 0 -111.723)" class="c">8.7%</text>
<text x="581.45" y="2482.72" transform="matrix(1 0 0 1.0450 0 -111.723)" class="c">0.0%</text>
<text x="689.45" y="2482.72" transform="matrix(1 0 0 1.0450 0 -111.723)" class="c">21.7%</text>
<text x="797.45" y="2482.72" transform="matrix(1 0 0 1.0450 0 -111.723)" class="c">26.1%</text>
<text x="905.45" y="2482.72" transform="matrix(1 0 0 1.0450 0 -111.723)" class="c w">43.5%</text>
<text x="473.45" y="2590.3" transform="matrix(1 0 0 1.0450 0 -116.563)" class="c">2.9%</text>
<text x="581.45" y="2590.3" transform="matrix(1 0 0 1.0450 0 -116.563)" class="c">5.7%</text>
<text x="689.45" y="2590.3" transform="matrix(1 0 0 1.0450 0 -116.563)" class="c">22.9%</text>
<text x="797.45" y="2590.3" transform="matrix(1 0 0 1.0450 0 -116.563)" class="c">17.1%</text>
<text x="905.45" y="2590.3" transform="matrix(1 0 0 1.0450 0 -116.563)" class="c w">51.4%</text>
<path d="M420.8 2100 V2635.8 H956.9" class="sp"/>
<path d="M413.8 2153.58 H420.8 M474.41 2635.8 V2642.8" class="tk"/>
<text x="400.7" y="2160" transform="matrix(1 0 0 1.0450 0 -97.200)" class="yt">T1</text>
<text x="474.21" y="2672.7" transform="matrix(1 0 0 1.0450 0 -120.272)" class="xt">T1</text>
<path d="M413.8 2260.74 H420.8 M581.63 2635.8 V2642.8" class="tk"/>
<text x="400.7" y="2267.57" transform="matrix(1 0 0 1.0450 0 -102.041)" class="yt">T2</text>
<text x="582.83" y="2672.7" transform="matrix(1 0 0 1.0450 0 -120.272)" class="xt">T2</text>
<path d="M413.8 2367.9 H420.8 M688.85 2635.8 V2642.8" class="tk"/>
<text x="400.7" y="2375.15" transform="matrix(1 0 0 1.0450 0 -106.882)" class="yt">T3</text>
<text x="690.05" y="2672.7" transform="matrix(1 0 0 1.0450 0 -120.272)" class="xt">T3</text>
<path d="M413.8 2475.06 H420.8 M796.07 2635.8 V2642.8" class="tk"/>
<text x="400.7" y="2482.72" transform="matrix(1 0 0 1.0450 0 -111.723)" class="yt">T4</text>
<text x="797.27" y="2672.7" transform="matrix(1 0 0 1.0450 0 -120.272)" class="xt">T4</text>
<path d="M413.8 2582.22 H420.8 M903.29 2635.8 V2642.8" class="tk"/>
<text x="400.7" y="2590.3" transform="matrix(1 0 0 1.0450 0 -116.563)" class="yt">T5</text>
<text x="904.49" y="2672.7" transform="matrix(1 0 0 1.0450 0 -120.272)" class="xt">T5</text>
<text x="685.35" y="2077.8" transform="matrix(1 0 0 1.0450 0 -93.501)" class="ti">US<tspan dy="1.2" stroke="#000" stroke-width="0.7">_</tspan><tspan dy="-1.2">Reader 3</tspan></text>
<text x="692.81" y="2716.3" transform="matrix(1 0 0 1.0450 0 -122.233)" class="lb">Prediction</text>
<text transform="translate(342.4 2367.57) rotate(-90) scale(1 1.0450)" class="lb">Ground truth</text>
</g>
<g>
<rect x="1053.2" y="2100" width="107.66" height="107.66" fill="#6caad0"/>
<rect x="1160.36" y="2100" width="107.66" height="107.66" fill="#b0d3e6"/>
<rect x="1267.52" y="2100" width="107.66" height="107.66" fill="#f7f8fc"/>
<rect x="1374.68" y="2100" width="107.66" height="107.66" fill="#f7f8fc"/>
<rect x="1481.84" y="2100" width="107.66" height="107.66" fill="#dfebf6"/>
<rect x="1053.2" y="2207.16" width="107.66" height="107.66" fill="#b4d5e7"/>
<rect x="1160.36" y="2207.16" width="107.66" height="107.66" fill="#7eb8d7"/>
<rect x="1267.52" y="2207.16" width="107.66" height="107.66" fill="#e4edf7"/>
<rect x="1374.68" y="2207.16" width="107.66" height="107.66" fill="#f7f8fc"/>
<rect x="1481.84" y="2207.16" width="107.66" height="107.66" fill="#e4edf7"/>
<rect x="1053.2" y="2314.32" width="107.66" height="107.66" fill="#f7f8fc"/>
<rect x="1160.36" y="2314.32" width="107.66" height="107.66" fill="#9ac9de"/>
<rect x="1267.52" y="2314.32" width="107.66" height="107.66" fill="#d1e2f2"/>
<rect x="1374.68" y="2314.32" width="107.66" height="107.66" fill="#f7f8fc"/>
<rect x="1481.84" y="2314.32" width="107.66" height="107.66" fill="#9ac9de"/>
<rect x="1053.2" y="2421.48" width="107.66" height="107.66" fill="#f7f8fc"/>
<rect x="1160.36" y="2421.48" width="107.66" height="107.66" fill="#cee1f1"/>
<rect x="1267.52" y="2421.48" width="107.66" height="107.66" fill="#e6eff8"/>
<rect x="1374.68" y="2421.48" width="107.66" height="107.66" fill="#f7f8fc"/>
<rect x="1481.84" y="2421.48" width="107.66" height="107.66" fill="#4a87bf"/>
<rect x="1053.2" y="2528.64" width="107.66" height="107.66" fill="#f2f5fb"/>
<rect x="1160.36" y="2528.64" width="107.66" height="107.66" fill="#e6eff8"/>
<rect x="1267.52" y="2528.64" width="107.66" height="107.66" fill="#ecf2f9"/>
<rect x="1374.68" y="2528.64" width="107.66" height="107.66" fill="#f7f8fc"/>
<rect x="1481.84" y="2528.64" width="107.66" height="107.66" fill="#3365a9"/>
<text x="1109" y="2160" transform="matrix(1 0 0 1.0450 0 -97.200)" class="c w">54.5%</text>
<text x="1216.7" y="2160" transform="matrix(1 0 0 1.0450 0 -97.200)" class="c w">33.3%</text>
<text x="1324.4" y="2160" transform="matrix(1 0 0 1.0450 0 -97.200)" class="c">0.0%</text>
<text x="1432.1" y="2160" transform="matrix(1 0 0 1.0450 0 -97.200)" class="c">0.0%</text>
<text x="1539.8" y="2160" transform="matrix(1 0 0 1.0450 0 -97.200)" class="c">12.2%</text>
<text x="1109" y="2267.57" transform="matrix(1 0 0 1.0450 0 -102.041)" class="c w">32.0%</text>
<text x="1216.7" y="2267.57" transform="matrix(1 0 0 1.0450 0 -102.041)" class="c w">48.0%</text>
<text x="1324.4" y="2267.57" transform="matrix(1 0 0 1.0450 0 -102.041)" class="c">10.0%</text>
<text x="1432.1" y="2267.57" transform="matrix(1 0 0 1.0450 0 -102.041)" class="c">0.0%</text>
<text x="1539.8" y="2267.57" transform="matrix(1 0 0 1.0450 0 -102.041)" class="c">10.0%</text>
<text x="1109" y="2375.15" transform="matrix(1 0 0 1.0450 0 -106.882)" class="c">0.0%</text>
<text x="1216.7" y="2375.15" transform="matrix(1 0 0 1.0450 0 -106.882)" class="c w">40.0%</text>
<text x="1324.4" y="2375.15" transform="matrix(1 0 0 1.0450 0 -106.882)" class="c">20.0%</text>
<text x="1432.1" y="2375.15" transform="matrix(1 0 0 1.0450 0 -106.882)" class="c">0.0%</text>
<text x="1539.8" y="2375.15" transform="matrix(1 0 0 1.0450 0 -106.882)" class="c w">40.0%</text>
<text x="1109" y="2482.72" transform="matrix(1 0 0 1.0450 0 -111.723)" class="c">0.0%</text>
<text x="1216.7" y="2482.72" transform="matrix(1 0 0 1.0450 0 -111.723)" class="c">21.7%</text>
<text x="1324.4" y="2482.72" transform="matrix(1 0 0 1.0450 0 -111.723)" class="c">8.7%</text>
<text x="1432.1" y="2482.72" transform="matrix(1 0 0 1.0450 0 -111.723)" class="c">0.0%</text>
<text x="1539.8" y="2482.72" transform="matrix(1 0 0 1.0450 0 -111.723)" class="c w">69.6%</text>
<text x="1109" y="2590.3" transform="matrix(1 0 0 1.0450 0 -116.563)" class="c">2.8%</text>
<text x="1216.7" y="2590.3" transform="matrix(1 0 0 1.0450 0 -116.563)" class="c">8.6%</text>
<text x="1324.4" y="2590.3" transform="matrix(1 0 0 1.0450 0 -116.563)" class="c">5.7%</text>
<text x="1432.1" y="2590.3" transform="matrix(1 0 0 1.0450 0 -116.563)" class="c">0.0%</text>
<text x="1539.8" y="2590.3" transform="matrix(1 0 0 1.0450 0 -116.563)" class="c w">82.9%</text>
<path d="M1053.2 2100 V2635.8 H1589" class="sp"/>
<path d="M1046.2 2153.58 H1053.2 M1106.78 2635.8 V2642.8" class="tk"/>
<text x="1034.2" y="2160" transform="matrix(1 0 0 1.0450 0 -97.200)" class="yt">T1</text>
<text x="1107.58" y="2672.7" transform="matrix(1 0 0 1.0450 0 -120.272)" class="xt">T1</text>
<path d="M1046.2 2260.74 H1053.2 M1213.94 2635.8 V2642.8" class="tk"/>
<text x="1034.2" y="2267.57" transform="matrix(1 0 0 1.0450 0 -102.041)" class="yt">T2</text>
<text x="1216.14" y="2672.7" transform="matrix(1 0 0 1.0450 0 -120.272)" class="xt">T2</text>
<path d="M1046.2 2367.9 H1053.2 M1321.1 2635.8 V2642.8" class="tk"/>
<text x="1034.2" y="2375.15" transform="matrix(1 0 0 1.0450 0 -106.882)" class="yt">T3</text>
<text x="1323.3" y="2672.7" transform="matrix(1 0 0 1.0450 0 -120.272)" class="xt">T3</text>
<path d="M1046.2 2475.06 H1053.2 M1428.26 2635.8 V2642.8" class="tk"/>
<text x="1034.2" y="2482.72" transform="matrix(1 0 0 1.0450 0 -111.723)" class="yt">T4</text>
<text x="1430.46" y="2672.7" transform="matrix(1 0 0 1.0450 0 -120.272)" class="xt">T4</text>
<path d="M1046.2 2582.22 H1053.2 M1535.42 2635.8 V2642.8" class="tk"/>
<text x="1034.2" y="2590.3" transform="matrix(1 0 0 1.0450 0 -116.563)" class="yt">T5</text>
<text x="1537.62" y="2672.7" transform="matrix(1 0 0 1.0450 0 -120.272)" class="xt">T5</text>
<text x="1320.65" y="2077.8" transform="matrix(1 0 0 1.0450 0 -93.501)" class="ti">US<tspan dy="1.2" stroke="#000" stroke-width="0.7">_</tspan><tspan dy="-1.2">Reader 4</tspan></text>
<text x="1323.61" y="2716.3" transform="matrix(1 0 0 1.0450 0 -122.233)" class="lb">Prediction</text>
</g>
<rect x="1937.5" y="47.1" width="27" height="536.7" fill="url(#cbg)" stroke="#000" stroke-width="1.5"/>
<path d="M1964.5 476.46 H1971.1" class="tk"/>
<text x="1978" y="485.06" transform="matrix(1 0 0 1.0450 0 -21.828)" class="cb">0.2</text>
<path d="M1964.5 369.12 H1971.1" class="tk"/>
<text x="1978" y="377.72" transform="matrix(1 0 0 1.0450 0 -16.997)" class="cb">0.4</text>
<path d="M1964.5 261.78 H1971.1" class="tk"/>
<text x="1978" y="270.38" transform="matrix(1 0 0 1.0450 0 -12.167)" class="cb">0.6</text>
<path d="M1964.5 154.44 H1971.1" class="tk"/>
<text x="1978" y="163.04" transform="matrix(1 0 0 1.0450 0 -7.337)" class="cb">0.8</text>
<rect x="1635.4" y="772.5" width="26.8" height="536.7" fill="url(#cbg)" stroke="#000" stroke-width="1.5"/>
<path d="M1662.2 1201.86 H1668.8" class="tk"/>
<text x="1675.7" y="1210.46" transform="matrix(1 0 0 1.0450 0 -54.471)" class="cb">0.2</text>
<path d="M1662.2 1094.52 H1668.8" class="tk"/>
<text x="1675.7" y="1103.12" transform="matrix(1 0 0 1.0450 0 -49.640)" class="cb">0.4</text>
<path d="M1662.2 987.18 H1668.8" class="tk"/>
<text x="1675.7" y="995.78" transform="matrix(1 0 0 1.0450 0 -44.810)" class="cb">0.6</text>
<path d="M1662.2 879.84 H1668.8" class="tk"/>
<text x="1675.7" y="888.44" transform="matrix(1 0 0 1.0450 0 -39.980)" class="cb">0.8</text>
<rect x="1635.4" y="1437.1" width="26.8" height="536.6" fill="url(#cbg)" stroke="#000" stroke-width="1.5"/>
<path d="M1662.2 1866.38 H1668.8" class="tk"/>
<text x="1675.7" y="1874.98" transform="matrix(1 0 0 1.0450 0 -84.374)" class="cb">0.2</text>
<path d="M1662.2 1759.06 H1668.8" class="tk"/>
<text x="1675.7" y="1767.66" transform="matrix(1 0 0 1.0450 0 -79.545)" class="cb">0.4</text>
<path d="M1662.2 1651.74 H1668.8" class="tk"/>
<text x="1675.7" y="1660.34" transform="matrix(1 0 0 1.0450 0 -74.715)" class="cb">0.6</text>
<path d="M1662.2 1544.42 H1668.8" class="tk"/>
<text x="1675.7" y="1553.02" transform="matrix(1 0 0 1.0450 0 -69.886)" class="cb">0.8</text>
<rect x="1635.4" y="2100.8" width="26.8" height="536.7" fill="url(#cbg)" stroke="#000" stroke-width="1.5"/>
<path d="M1662.2 2530.16 H1668.8" class="tk"/>
<text x="1675.7" y="2538.76" transform="matrix(1 0 0 1.0450 0 -114.244)" class="cb">0.2</text>
<path d="M1662.2 2422.82 H1668.8" class="tk"/>
<text x="1675.7" y="2431.42" transform="matrix(1 0 0 1.0450 0 -109.414)" class="cb">0.4</text>
<path d="M1662.2 2315.48 H1668.8" class="tk"/>
<text x="1675.7" y="2324.08" transform="matrix(1 0 0 1.0450 0 -104.584)" class="cb">0.6</text>
<path d="M1662.2 2208.14 H1668.8" class="tk"/>
<text x="1675.7" y="2216.74" transform="matrix(1 0 0 1.0450 0 -99.753)" class="cb">0.8</text>
</svg>
</body></html>
